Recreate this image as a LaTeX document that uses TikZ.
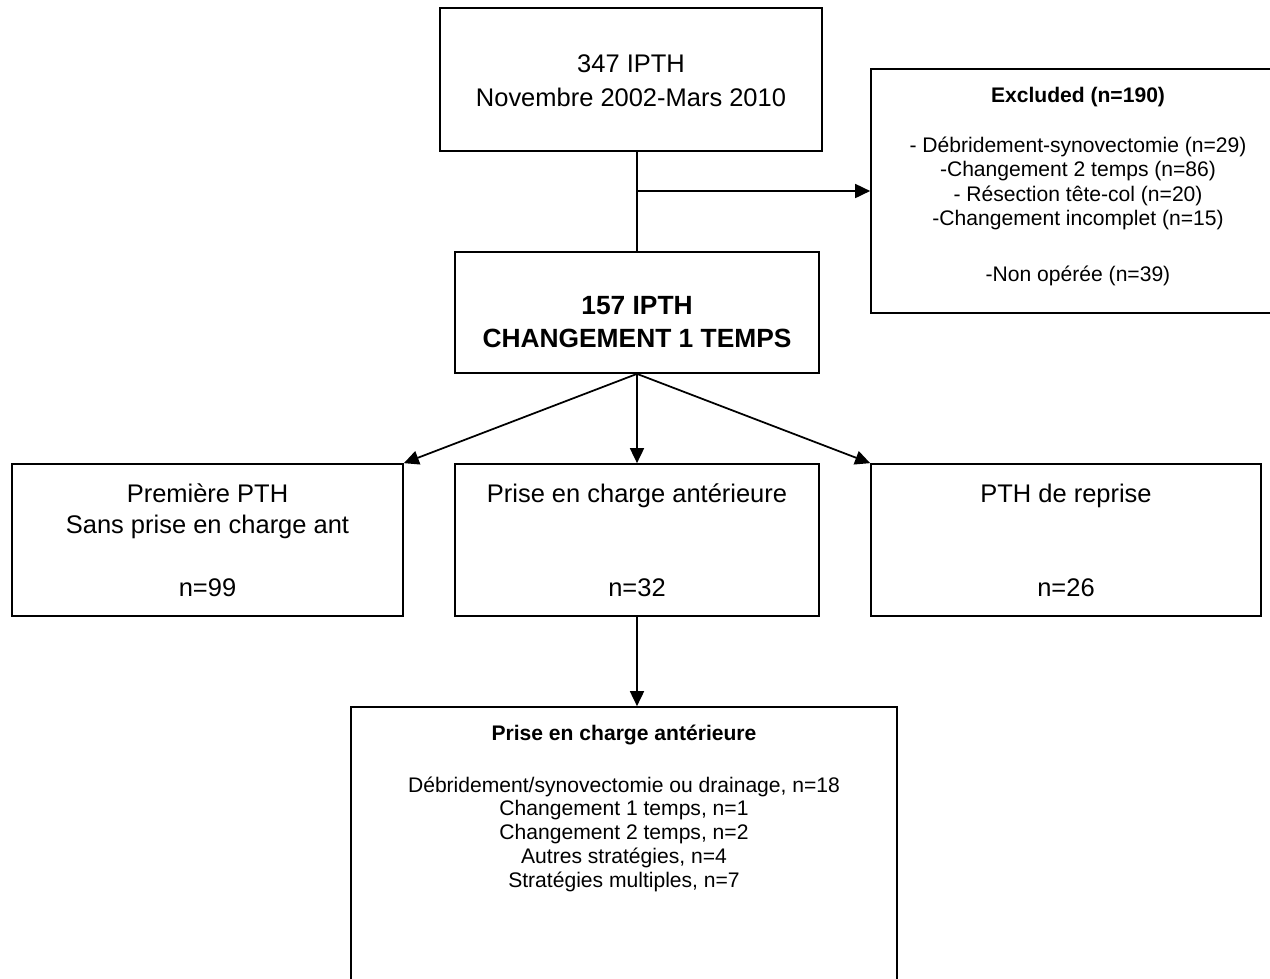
\documentclass[tikz,border=0pt]{standalone}
\usepackage{fontspec}
\setmainfont{Liberation Sans}
\usetikzlibrary{arrows.meta}
\newcommand{\gross}{\fontsize{14.5}{19.3}\selectfont}
\newcommand{\klein}{\fontsize{12}{13.9}\selectfont}
\begin{document}
\begin{tikzpicture}[x=0.02cm, y=-0.02cm,
  kasten/.style={draw, line width=1pt, inner sep=0pt},
  pfeil/.style={-{Triangle[length=0.3cm,width=0.28cm]}, line width=1pt},
  zeile/.style={anchor=base, align=center, inner sep=0pt}]
	 % Rahmen des Bildes (rechts und unten abgeschnitten):
	 \path[use as bounding box, clip] (0,0) rectangle (1270,978);
	 % Die Kästen:
	 \node[kasten, minimum width=7.64cm, minimum height=2.86cm] (start) at (631,79.5) {};
	 \node[kasten, minimum width=8.28cm, minimum height=4.88cm] (excl) at (1078,191) {};
	 \node[kasten, minimum width=7.28cm, minimum height=2.42cm] (ipth) at (637,312.5) {};
	 \node[kasten, minimum width=7.82cm, minimum height=3.04cm] (erste) at (207.5,540) {};
	 \node[kasten, minimum width=7.28cm, minimum height=3.04cm] (prise) at (637,540) {};
	 \node[kasten, minimum width=7.80cm, minimum height=3.04cm] (reprise) at (1066,540) {};
	 \node[kasten, minimum width=10.92cm, minimum height=6.40cm] (detail) at (624,867) {};
	 % Texte in den Kästen (Anker: Grundlinie der letzten Zeile):
	 \node[zeile, font=\gross] (startT) at (631,106) {347 IPTH\\Novembre 2002-Mars 2010};
	 \node[zeile, font=\klein\bfseries] (exclT) at (1078,102.5) {Excluded (n=190)};
	 \node[zeile, font=\klein] (exclL) at (1078,281.6) {- Débridement-synovectomie (n=29)\\-Changement 2 temps (n=86)\\- Résection tête-col (n=20)\\-Changement incomplet (n=15)\\[0.63cm]-Non opérée (n=39)};
	 \node[zeile, font=\fontsize{15}{18.7}\selectfont\bfseries] (ipthT) at (637,347) {157 IPTH\\CHANGEMENT 1 TEMPS};
	 \node[zeile, font=\fontsize{14.5}{17.6}\selectfont] (ersteT) at (207.5,596) {Première PTH\\Sans prise en charge ant\\[0.64cm]n=99};
	 \node[zeile, font=\gross] (priseT) at (637,596) {Prise en charge antérieure\\[1.2cm]n=32};
	 \node[zeile, font=\gross] (repriseT) at (1066,596) {PTH de reprise\\[1.2cm]n=26};
	 \node[zeile, font=\klein\bfseries] (detailT) at (624,740.6) {Prise en charge antérieure};
	 \node[zeile, font=\fontsize{12}{13.6}\selectfont] (detailL) at (624,887.6) {Débridement/synovectomie ou drainage, n=18\\Changement 1 temps, n=1\\Changement 2 temps, n=2\\Autres stratégies, n=4\\Stratégies multiples, n=7};
	 % Verbindungen:
	 \draw[line width=1pt] (start.south -| ipth.north) -- (ipth.north);
	 \draw[pfeil] (ipth.north |- excl.west) -- (excl.west);
	 \foreach \ziel/\anker in {erste/north east, prise/north, reprise/north west}
	 \draw[pfeil] (ipth.south) -- (\ziel.\anker);
	 \draw[pfeil] (prise.south) -- (prise.south |- detail.north);
\end{tikzpicture}
\end{document}
